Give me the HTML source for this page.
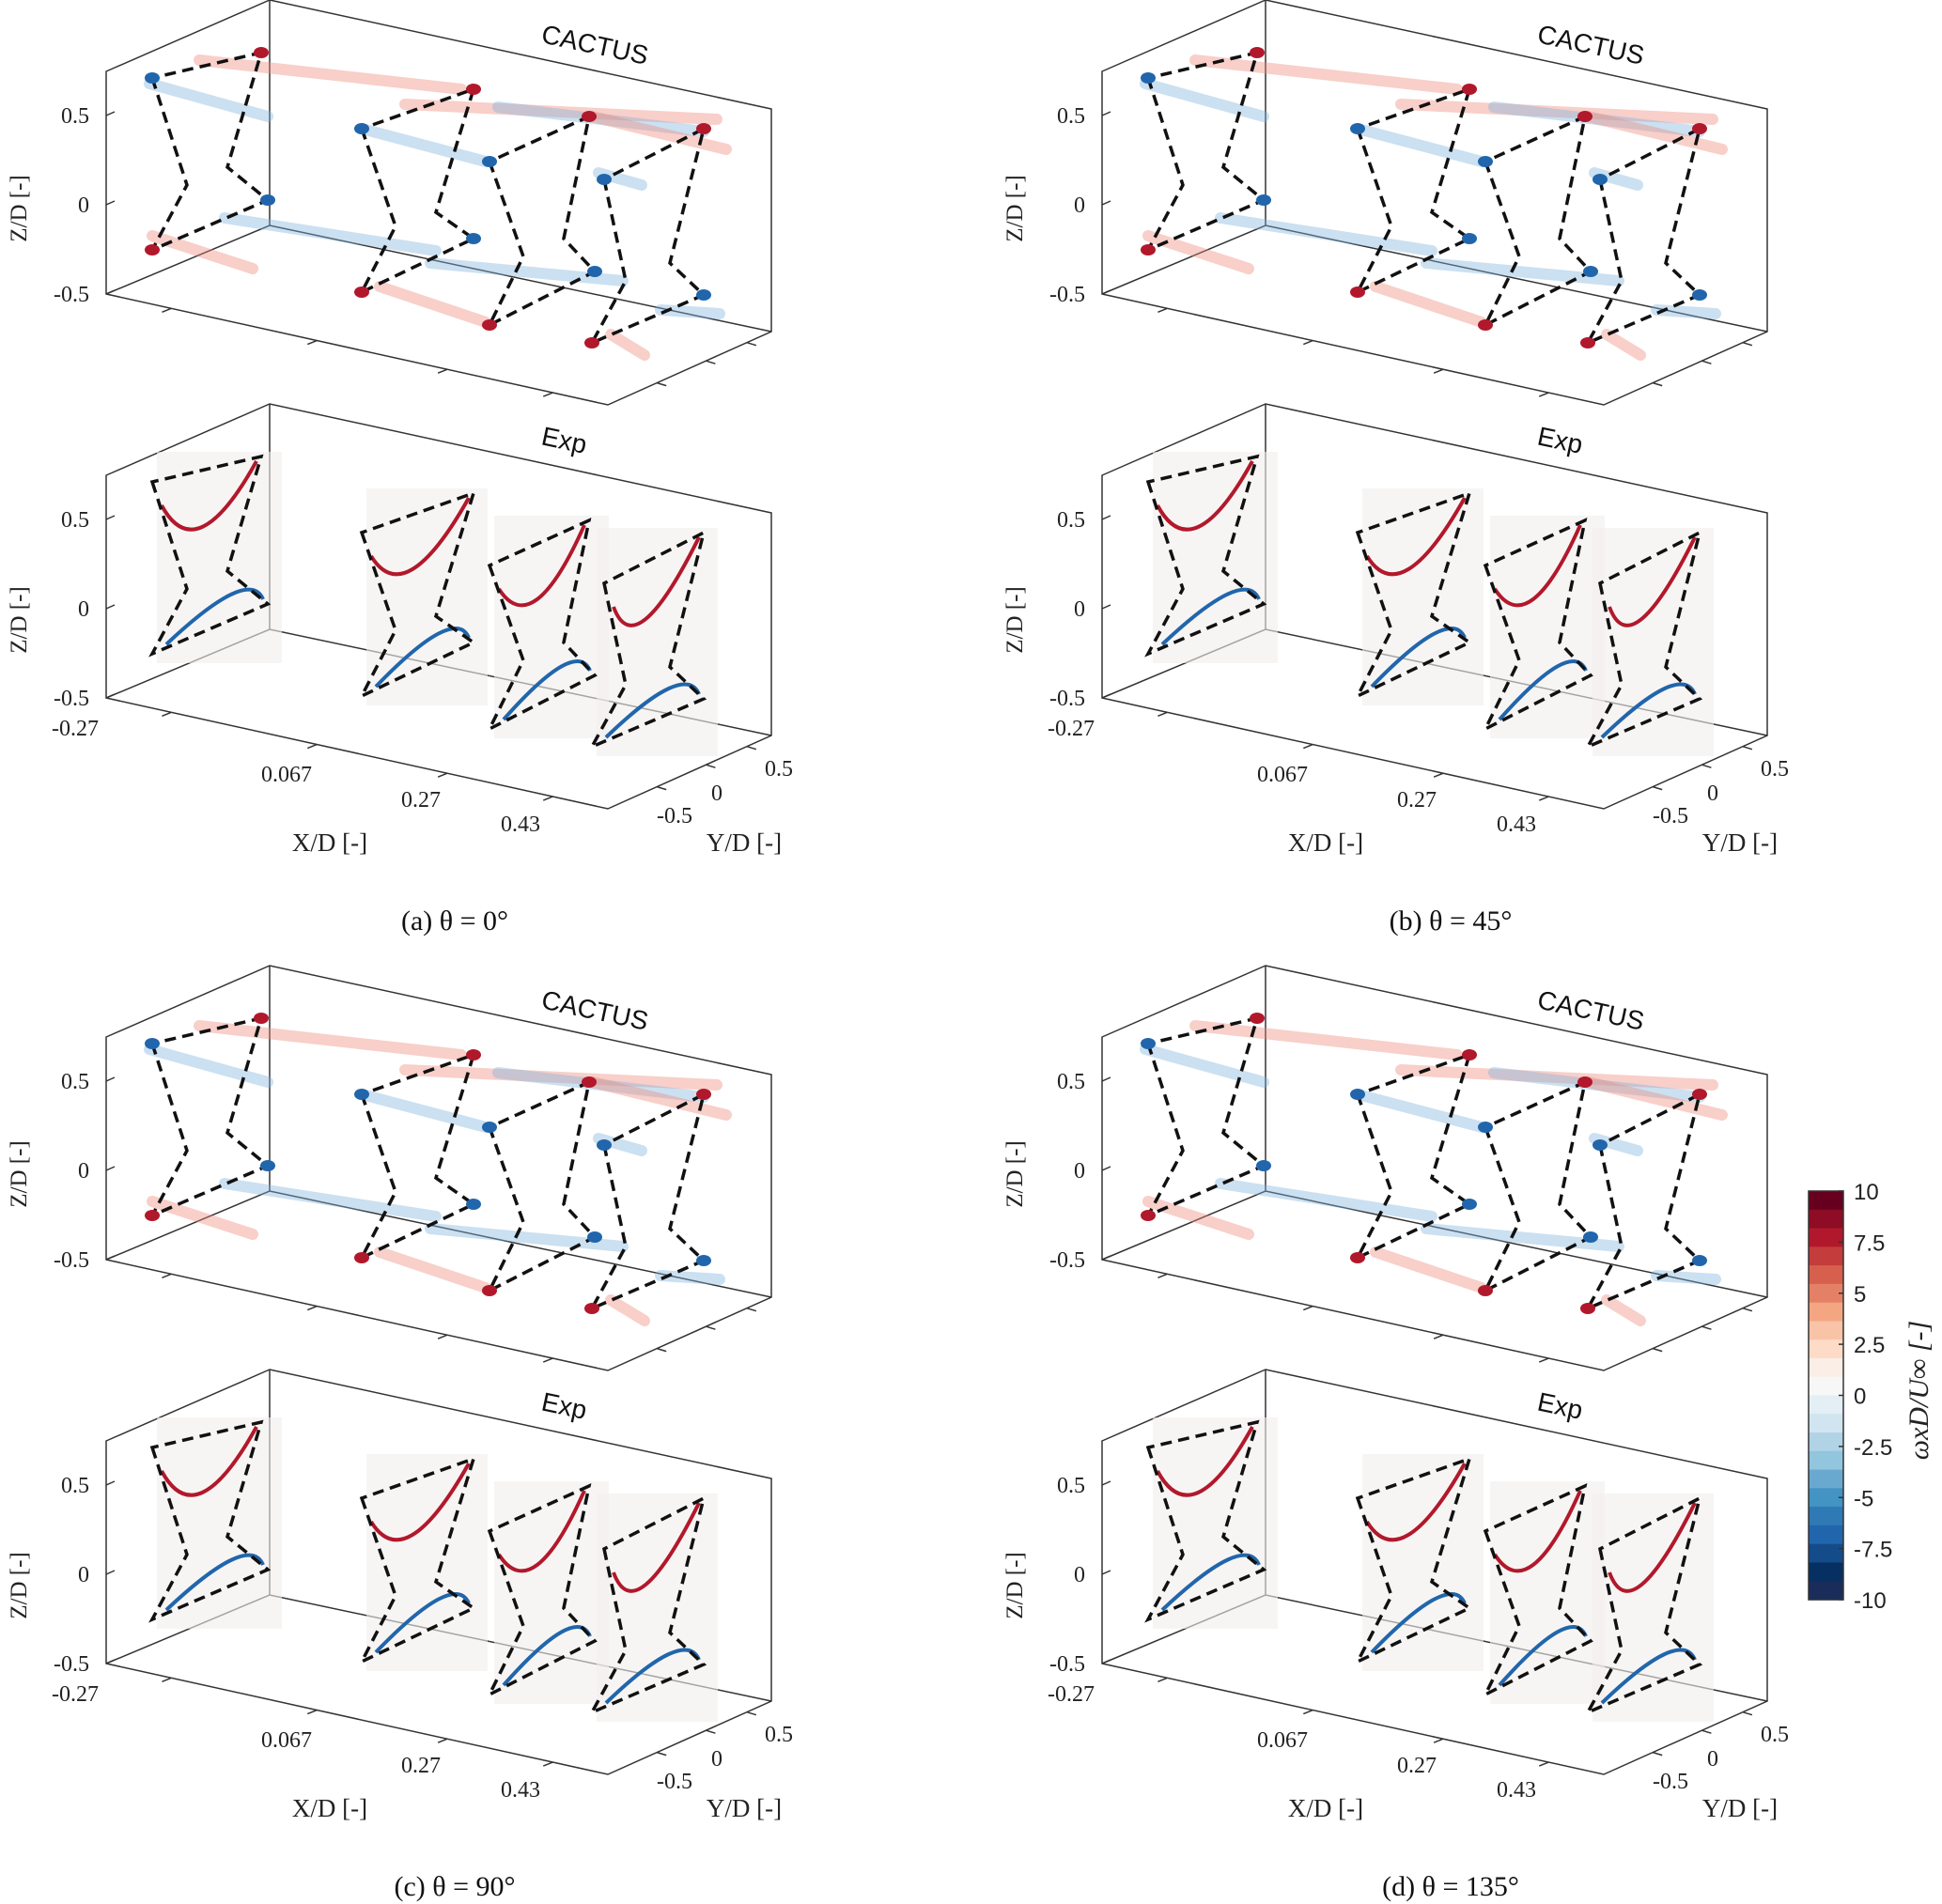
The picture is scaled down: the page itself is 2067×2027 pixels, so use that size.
<!DOCTYPE html>
<html><head><meta charset="utf-8">
<style>
html,body{margin:0;padding:0;background:#fff;}
svg{display:block;font-family:"Liberation Serif",serif;}
.sans{font-family:"Liberation Sans",sans-serif;}
</style></head>
<body>
<svg id="fig" width="2067" height="2027" viewBox="0 0 2067 2027">
<g id="panels"></g>
<g id="colorbar"></g>
</svg>
<script>
const NS="http://www.w3.org/2000/svg";
const panelOffsets=[[0,0],[1060,0],[0,1028],[1060,1028]];
const panelCaptions=["(a) θ = 0°","(b) θ = 45°","(c) θ = 90°","(d) θ = 135°"];
const zTicks=["0.5","0","-0.5"];
const xTicks=["-0.27","0.067","0.27","0.43"];
const yTicks=["0.5","0","-0.5"];
const cbTicks=["10","7.5","5","2.5","0","-2.5","-5","-7.5","-10"];
const cbColors=["#67001f","#8e0c25","#b2182b","#c43c3c","#d6604d","#e48066","#f4a582","#f8c3a7","#fddbc7","#fbeee6","#f7f7f7","#e3eef5","#d1e5f0","#b0d3e6","#92c5de","#6aa9cf","#4393c3","#2f79b5","#2166ac","#144c8a","#053061","#1a2d5a"];
const turbines=[[[162,83],[199,197],[162,266],[285,213],[242,178],[278,56]],
[[385,137],[421,241],[385,311],[504,254],[464,226],[504,95]],
[[521,172],[557,273],[521,346],[633,289],[600,254],[627,124]],
[[643,191],[666,299],[630,365],[749,314],[713,280],[749,137]]];
const streaks=[["r",212,64,491,95],["b",159,89,285,124],["b",239,232,464,267],["r",162,251,269,286],["r",431,111,763,127],["b",385,137,517,172],["b",530,114,749,140],["r",630,124,773,159],["b",637,184,683,197],["b",458,280,663,299],["r",404,305,517,343],["b",703,330,766,334],["r",650,356,686,378]];
function el(tag,attrs,parent,txt){const e=document.createElementNS(NS,tag);for(const k in attrs)e.setAttribute(k,attrs[k]);if(txt!==undefined)e.textContent=txt;parent.appendChild(e);return e;}
const panels=document.getElementById('panels');
panelOffsets.forEach((off,pi)=>{
  const g=el('g',{transform:`translate(${off[0]},${off[1]})`},panels);
  
  
  [0,430].forEach((dy,si)=>{
    const s=el('g',{transform:`translate(0,${dy})`},g);
    
    
    const ax={stroke:'#333','stroke-width':1.5,fill:'none'};
    el('path',Object.assign({d:'M113,76 L287,0 L821,116 L821,353 L647,431 L113,313 Z M113,313 L287,240 L821,353 M287,0 L287,240'},ax),s);
    zTicks.forEach((t,i)=>{const y=123+i*95;el('line',{x1:113,y1:y,x2:122,y2:y-4,stroke:'#333','stroke-width':1.5},s);const tx=el('text',{x:95,y:y+8,'text-anchor':'end','font-size':24,fill:'#222'},s,t);});
    const zl=el('text',{x:0,y:0,'font-size':25,fill:'#222','text-anchor':'middle',transform:`translate(28,${dy?230:222}) rotate(-90)`},s,'Z/D [-]');
    
    [0.13,0.42,0.68,0.89].forEach(f=>{const x=113+f*534,y=313+f*118;el('line',{x1:x,y1:y,x2:x-10,y2:y+4,stroke:'#333','stroke-width':1.5},s);});
    [0.3,0.6,0.85].forEach(f=>{const x=647+f*174,y=431-f*78;el('line',{x1:x,y1:y,x2:x+10,y2:y+3,stroke:'#333','stroke-width':1.5},s);});
    if(!si){streaks.forEach(st=>{const l=el('line',{x1:st[1],y1:st[2],x2:st[3],y2:st[4],stroke:st[0]=='r'?'#ef8a7a':'#7fb3de','stroke-width':12,'stroke-linecap':'round',opacity:0.4},s);});}
    else{turbines.forEach(tb=>{const xs=tb.map(p=>p[0]),ys=tb.map(p=>p[1]);const r=el('rect',{x:Math.min(...xs)+5,y:Math.min(...ys)-5,width:Math.max(...xs)-Math.min(...xs)+10,height:Math.max(...ys)-Math.min(...ys)+15,fill:'#f2eeed',opacity:0.6},s);
      el('path',{d:`M${tb[0][0]+10},${tb[0][1]+25} Q${tb[1][0]+10},${tb[1][1]-20} ${tb[5][0]-5},${tb[5][1]+5}`,stroke:'#b2182b','stroke-width':4,fill:'none'},s);
      el('path',{d:`M${tb[2][0]+15},${tb[2][1]-10} Q${tb[3][0]-20},${tb[3][1]-40} ${tb[3][0]-5},${tb[3][1]-5}`,stroke:'#2166ac','stroke-width':4,fill:'none'},s);});}
    turbines.forEach(tb=>{const p=el('path',{d:'M'+tb.map(q=>q.join(',')).join(' L')+' Z',stroke:'#111','stroke-width':3.5,fill:'none','stroke-dasharray':'12 7'},s);
      if(!si){[[0,'#2166ac'],[5,'#b2182b'],[2,'#b2182b'],[3,'#2166ac']].forEach(b=>{el('ellipse',{cx:tb[b[0]][0],cy:tb[b[0]][1],rx:8,ry:6,fill:b[1]},s);});}});
    const tt=el('text',{x:0,y:0,'font-size':28,class:'sans',fill:'#111',transform:`translate(575,${si?43:45}) rotate(12)`},s,si?'Exp':'CACTUS');
    
  });
  xTicks.forEach((t,i)=>{const pos=[[80,775],[305,824],[448,851],[554,877]][i];const tx=el('text',{x:pos[0],y:pos[1]+8,'text-anchor':'middle','font-size':24,fill:'#222'},g,t);});
  yTicks.forEach((t,i)=>{const pos=[[829,818],[763,844],[718,868]][i];const tx=el('text',{x:pos[0],y:pos[1]+8,'text-anchor':'middle','font-size':24,fill:'#222'},g,t);});
  const xl=el('text',{x:351,y:906,'text-anchor':'middle','font-size':27,fill:'#222'},g,'X/D [-]');
  const yl=el('text',{x:792,y:906,'text-anchor':'middle','font-size':27,fill:'#222'},g,'Y/D [-]');
  const cp=el('text',{x:484,y:990,'text-anchor':'middle','font-size':30,fill:'#111'},g,panelCaptions[pi]);
});
const cb=document.getElementById('colorbar');
const cbX=1925,cbY=1268,cbW=37,cbH=435;
const bh=cbH/cbColors.length;
cbColors.forEach((c,i)=>{const r=el('rect',{x:cbX,y:cbY+i*bh,width:cbW,height:bh+0.6,fill:c},cb);});
el('rect',{x:cbX,y:cbY,width:cbW,height:cbH,fill:'none',stroke:'#333','stroke-width':1.5},cb);
cbTicks.forEach((t,i)=>{const y=cbY+i*cbH/(cbTicks.length-1);el('line',{x1:cbX+cbW-5,y1:y,x2:cbX+cbW,y2:y,stroke:'#333','stroke-width':1.5},cb);const tx=el('text',{x:1973,y:y+9,'font-size':24,class:'sans',fill:'#222'},cb,t);});
const cl=el('text',{x:0,y:0,'font-size':30,'font-style':'italic','text-anchor':'middle',fill:'#222',transform:'translate(2052,1480) rotate(-90)'},cb,'ωxD/U∞ [-]');

</script>
</body></html>
